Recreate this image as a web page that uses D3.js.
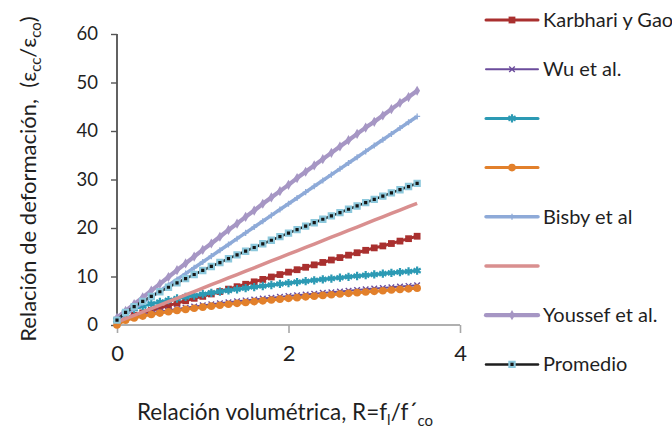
<!DOCTYPE html>
<html><head><meta charset="utf-8">
<script src="https://cdn.jsdelivr.net/npm/d3@7"></script>
<style>
body{margin:0;background:#fff}
svg{display:block}
text{font-family:Lato,"Open Sans",sans-serif;fill:#1f1f1f}
</style>
</head><body>
<svg id="chart" width="672" height="433"></svg>
<script>
// Volumetric ratio R = fl/f'co
const ratio = [0,0.1,0.2,0.3,0.4,0.5,0.6,0.7,0.8,0.9,1.0,1.1,1.2,1.3,1.4,1.5,1.6,1.7,1.8,1.9,
               2.0,2.1,2.2,2.3,2.4,2.5,2.6,2.7,2.8,2.9,3.0,3.1,3.2,3.3,3.4,3.5];

// Strain ratio ecc/eco for each model
const karbhari = [1.0,1.5,2.0,2.5,3.0,3.5,4.0,4.5,5.0,5.5,5.9,6.4,6.9,7.4,7.9,8.4,8.9,9.4,9.9,10.4,
                  10.9,11.4,11.9,12.4,12.9,13.4,13.9,14.4,14.9,15.4,15.9,16.3,16.8,17.3,17.8,18.3];
const wu = [0.4,1.18,1.68,2.09,2.44,2.76,3.04,3.31,3.56,3.81,4.04,4.26,4.47,4.68,4.88,5.07,5.26,5.44,5.62,5.80,
            5.97,6.13,6.30,6.46,6.62,6.76,6.92,7.07,7.22,7.36,7.51,7.64,7.79,7.93,8.06,8.20];
const modelC = [1.0,2.64,3.34,3.89,4.35,4.75,5.12,5.46,5.78,6.08,6.36,6.63,6.89,7.13,7.37,7.60,7.82,8.04,8.25,8.46,
                8.65,8.85,9.04,9.22,9.41,9.58,9.76,9.93,10.10,10.27,10.43,10.59,10.75,10.90,11.05,11.21];
const modelD = [0,0.97,1.44,1.83,2.16,2.46,2.73,2.98,3.22,3.45,3.67,3.88,4.08,4.27,4.46,4.64,4.82,4.99,5.16,5.33,
                5.49,5.64,5.80,5.95,6.10,6.24,6.39,6.53,6.67,6.80,6.94,7.07,7.21,7.34,7.46,7.59];
const bisby = [1.0,2.2,3.4,4.6,5.8,7.0,8.2,9.4,10.6,11.8,13.0,14.2,15.4,16.6,17.8,19.0,20.2,21.4,22.6,23.8,
               25.0,26.2,27.4,28.6,29.8,31.0,32.2,33.4,34.6,35.8,37.0,38.2,39.4,40.6,41.8,43.0];
const modelF = [0.6,1.3,2.0,2.7,3.4,4.1,4.8,5.5,6.2,6.9,7.6,8.3,9.0,9.7,10.4,11.1,11.8,12.5,13.2,13.9,
                14.6,15.3,16.0,16.7,17.4,18.1,18.8,19.5,20.2,20.9,21.6,22.3,23.0,23.7,24.4,25.1];
const youssef = [1.5,2.9,4.3,5.7,7.1,8.5,9.9,11.3,12.7,14.1,15.5,16.8,18.2,19.6,20.9,22.3,23.6,25.0,26.3,27.6,
                 28.9,30.3,31.6,32.9,34.2,35.5,36.8,38.1,39.4,40.7,41.9,43.2,44.5,45.8,47.0,48.3];
const promedio = [1.0,2.59,3.79,4.87,5.89,6.85,7.78,8.68,9.56,10.41,11.25,12.07,12.88,13.67,14.45,15.22,15.98,16.74,17.48,18.22,
                  18.95,19.67,20.38,21.09,21.80,22.49,23.18,23.87,24.55,25.23,25.90,26.57,27.24,27.90,28.55,29.21];

const seriesNames = ["Karbhari y Gao","Wu et al.","","","Bisby et al","","Youssef et al.","Promedio"];
const seriesValues = [karbhari, wu, modelC, modelD, bisby, modelF, youssef, promedio];

const xTicks = [0,2,4];
const yTicks = [0,10,20,30,40,50,60];

// Line and marker styling per series
const styles = [
  {color:"#a9302f", width:3,   symbol:d3.symbolSquare,   size:46, fill:"#a9302f", stroke:"none", sw:0},
  {color:"#6b4c9c", width:2,   symbol:d3.symbolTimes,    size:22, fill:"none", stroke:"#6b4c9c", sw:1.4},
  {color:"#2c9ab4", width:3,   symbol:d3.symbolAsterisk, size:48, fill:"none", stroke:"#2c9ab4", sw:2.2},
  {color:"#e2802b", width:3,   symbol:d3.symbolCircle,   size:46, fill:"#e2802b", stroke:"none", sw:0},
  {color:"#8eaad8", width:3.5, symbol:d3.symbolPlus,     size:14, fill:"none", stroke:"#8eaad8", sw:1.3},
  {color:"#d98f8f", width:3.5, symbol:null},
  {color:"#a696c4", width:4.2, symbol:d3.symbolDiamond,  size:30, fill:"#a696c4", stroke:"none", sw:0},
  {color:"#1e1e1e", width:2.5, symbol:d3.symbolSquare,   size:28, fill:"#151515", stroke:"#8cc8dc", sw:2.1}
];

const svg = d3.select("#chart");
const x = d3.scaleLinear().domain([0,4]).range([117,460]);
const y = d3.scaleLinear().domain([0,60]).range([325,34]);

// Y axis
const yAxis = svg.append("g").attr("transform","translate(117,0)")
  .call(d3.axisLeft(y).tickValues(yTicks).tickSize(6).tickPadding(13).tickFormat(d3.format("d")));
yAxis.select(".domain").attr("stroke","#3a3a3a").attr("stroke-width",1.6).attr("d","M0,34V325");
yAxis.selectAll(".tick line").attr("stroke","#555").attr("stroke-width",1.4);
yAxis.selectAll(".tick text").style("font-size","18.5px").attr("fill","#1f1f1f");

// X axis
const xAxis = svg.append("g").attr("transform","translate(0,325)")
  .call(d3.axisBottom(x).tickValues(xTicks).tickSize(8).tickPadding(12).tickFormat(d3.format("d")));
xAxis.select(".domain").attr("stroke","#b0b0b0").attr("stroke-width",2).attr("d","M117,0H460");
xAxis.selectAll(".tick line").attr("stroke","#a8a8a8").attr("stroke-width",1.6);
xAxis.selectAll(".tick text").style("font-size","22px").attr("fill","#1f1f1f");

// Series lines and markers
const line = d3.line().x((d,i)=>x(ratio[i])).y(d=>y(d));
const plot = svg.append("g");
seriesValues.forEach((vals, k) => {
  const s = styles[k];
  const g = plot.append("g");
  g.append("path").attr("d", line(vals)).attr("fill","none")
    .attr("stroke", s.color).attr("stroke-width", s.width).attr("stroke-linejoin","round");
  if (s.symbol) {
    g.selectAll("path.m").data(vals).join("path").attr("class","m")
      .attr("transform",(d,i)=>`translate(${x(ratio[i])},${y(d)})`)
      .attr("d", d3.symbol(s.symbol, s.size))
      .attr("fill", s.fill).attr("stroke", s.stroke).attr("stroke-width", s.sw);
  }
});

// Legend
const legend = svg.append("g");
seriesNames.forEach((name, k) => {
  const s = styles[k];
  const cy = 20 + k * 49.2;
  const row = legend.append("g").attr("transform", `translate(0,${cy})`);
  row.append("line").attr("x1",486).attr("x2",538).attr("y1",0).attr("y2",0)
    .attr("stroke", s.color).attr("stroke-width", s.width).attr("stroke-linecap","round");
  if (s.symbol) {
    row.append("path").attr("transform","translate(512,0)")
      .attr("d", d3.symbol(s.symbol, s.size))
      .attr("fill", s.fill).attr("stroke", s.stroke).attr("stroke-width", s.sw);
  }
  if (name) {
    row.append("text").attr("x",543).attr("y",7).style("font-size","20px").text(name);
  }
});

// Axis titles
const xt = svg.append("text").attr("x",285).attr("y",420).attr("text-anchor","middle")
  .style("font-size","22.5px");
xt.append("tspan").text("Relación volumétrica, R=f");
xt.append("tspan").attr("dy",5).style("font-size","15px").text("l");
xt.append("tspan").attr("dy",-5).text("/f´");
xt.append("tspan").attr("dy",6).style("font-size","15px").text("co");

const yt = svg.append("text").attr("transform","translate(36,179) rotate(-90)")
  .attr("text-anchor","middle").style("font-size","22px").style("white-space","pre");
yt.append("tspan").text("Relación de deformación,  (ε");
yt.append("tspan").attr("dy",5).style("font-size","15px").text("cc");
yt.append("tspan").attr("dy",-5).text("/ε");
yt.append("tspan").attr("dy",5).style("font-size","15px").text("co");
yt.append("tspan").attr("dy",-5).text(")");
</script>
</body></html>
